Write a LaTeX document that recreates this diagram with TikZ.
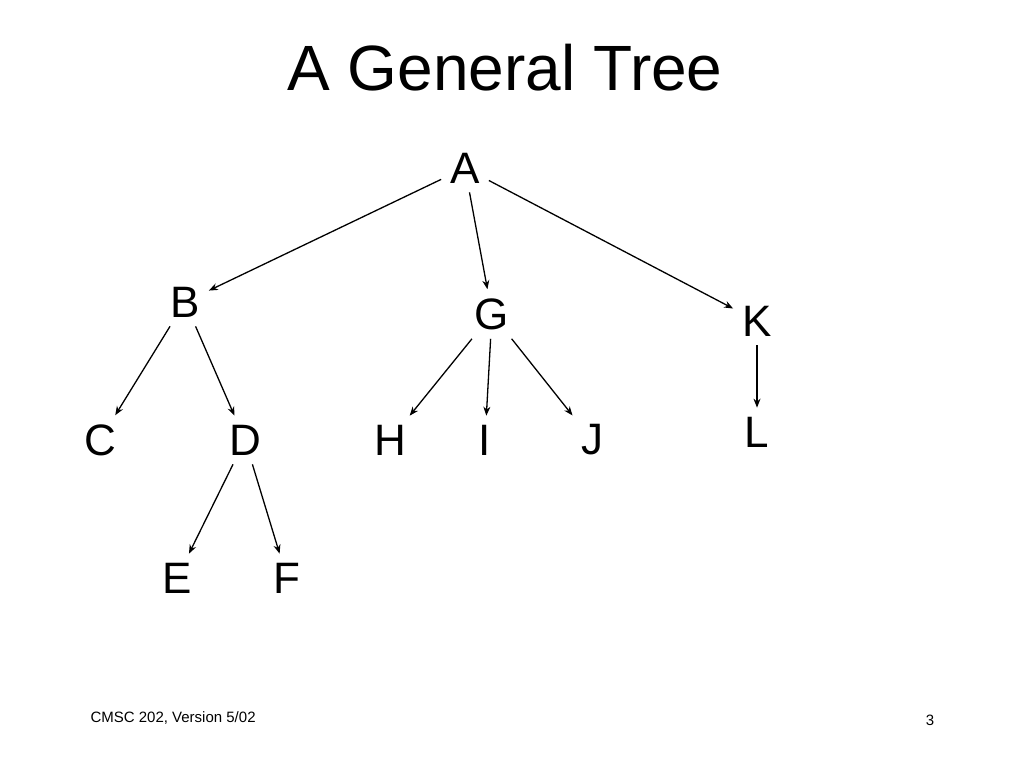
\documentclass[tikz,border=0pt]{standalone}
\usepackage{fontspec}
\setmainfont{Liberation Sans}
\usetikzlibrary{arrows.meta}
\tikzset{
    treeNode/.style={font=\fontsize{44}{48}\selectfont, inner sep=9pt},
    treeEdge/.style={-{Stealth[length=9pt,width=7pt]}, line width=1.3pt},
    footText/.style={font=\fontsize{15}{18}\selectfont}
}
\begin{document}
\begin{tikzpicture}[x=1pt, y=-1pt]
    \useasboundingbox (0,0) rectangle (1024,768);
    % Title
    \node[font=\fontsize{64}{70}\selectfont] (title) at (505,68) {A General Tree};

    % Nodes
    \node[treeNode] (A) at (465,168) {A};
    \node[treeNode] (B) at (185,302) {B};
    \node[treeNode] (G) at (492,314) {G};
    \node[treeNode] (K) at (757,321) {K};
    \node[treeNode] (C) at (100,440) {C};
    \node[treeNode] (D) at (245,440) {D};
    \node[treeNode] (H) at (390,440) {H};
    \node[treeNode] (I) at (485,440) {I};
    \node[treeNode] (J) at (592,440) {J};
    \node[treeNode] (L) at (757,432) {L};
    \node[treeNode] (E) at (177,578) {E};
    \node[treeNode] (F) at (287,578) {F};

    % Edges
    \draw[treeEdge] (A) -- (B);
    \draw[treeEdge] (A) -- (G);
    \draw[treeEdge] (A) -- (K);
    \draw[treeEdge] (B) -- (C);
    \draw[treeEdge] (B) -- (D);
    \draw[treeEdge] (D) -- (E);
    \draw[treeEdge] (D) -- (F);
    \draw[treeEdge] (G) -- (H);
    \draw[treeEdge] (G) -- (I);
    \draw[treeEdge] (G) -- (J);
    \draw[treeEdge] (K) -- (L);

    % Footer
    \node[footText, anchor=west] (foot) at (87,718) {CMSC 202, Version 5/02};
    \node[footText] (page) at (930,720) {3};
\end{tikzpicture}
\end{document}
